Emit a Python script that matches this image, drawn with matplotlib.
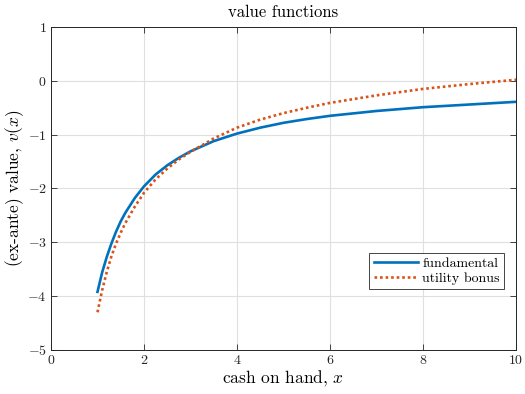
import matplotlib
matplotlib.use("Agg")
import matplotlib.pyplot as plt

# values
cash = [1.0, 1.1, 1.2, 1.3, 1.4, 1.5, 1.6, 1.8, 2.0, 2.25, 2.5, 2.75,
        3.0, 3.5, 4.0, 4.5, 5.0, 5.5, 6.0, 7.0, 8.0, 9.0, 10.0]
v_fundamental = [-3.92, -3.56, -3.27, -3.02, -2.80, -2.61, -2.45, -2.18, -1.96,
                 -1.74, -1.57, -1.43, -1.31, -1.12, -0.98, -0.87, -0.78, -0.71,
                 -0.65, -0.56, -0.49, -0.44, -0.39]
v_bonus = [-4.30, -3.89, -3.55, -3.26, -3.02, -2.82, -2.64, -2.34, -2.08,
           -1.83, -1.63, -1.46, -1.32, -1.07, -0.87, -0.72, -0.60, -0.50,
           -0.41, -0.27, -0.15, -0.06, 0.02]
series_labels = ["fundamental", "utility bonus"]
xticks = [0, 2, 4, 6, 8, 10]
yticks = [-5, -4, -3, -2, -1, 0, 1]

plt.rcParams["font.family"] = "serif"
plt.rcParams["font.serif"] = ["cmr10"]
plt.rcParams["mathtext.fontset"] = "cm"
plt.rcParams["axes.unicode_minus"] = False
plt.rcParams["axes.formatter.use_mathtext"] = True

fig = plt.figure(figsize=(5.25, 3.94), dpi=100)
ax = fig.add_axes([0.0971, 0.1117, 0.8859, 0.8198])

ax.plot(cash, v_fundamental, color="#0072BD", lw=1.9, label=series_labels[0])
ax.plot(cash, v_bonus, color="#D95319", lw=1.9, ls=(0, (1, 1.1)), label=series_labels[1])

ax.set_xlim(0, 10)
ax.set_ylim(-5, 1)
ax.set_xticks(xticks)
ax.set_yticks(yticks)
ax.grid(True, color="#dfdfdf", lw=0.8)
ax.set_axisbelow(True)
ax.tick_params(direction="in", top=True, right=True, length=4, width=0.6,
               labelsize=10, colors="#262626", pad=3)
for s in ax.spines.values():
    s.set_color("#262626")
    s.set_linewidth(0.7)

ax.set_title("value functions", fontsize=12, pad=7)
ax.set_xlabel("cash on hand, $x$", fontsize=12.5, labelpad=1)
ax.set_ylabel("(ex-ante) value, $v(x)$", fontsize=12.5, labelpad=1)

leg = ax.legend(loc="lower right", bbox_to_anchor=(0.974, 0.189), fontsize=10,
                fancybox=False, framealpha=1, edgecolor="#262626",
                handlelength=3.2, handletextpad=0.3, borderpad=0.3,
                labelspacing=0.15, borderaxespad=0)
leg.get_frame().set_linewidth(0.6)

fig.savefig("out.png", dpi=100)
